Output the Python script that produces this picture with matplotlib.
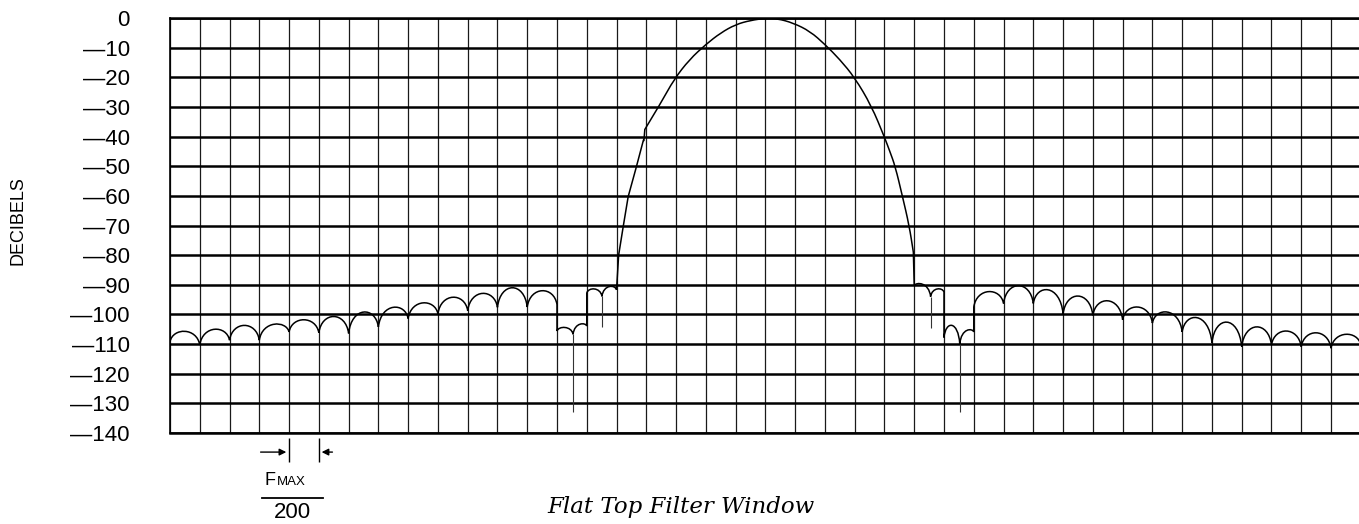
import numpy as np
import matplotlib.pyplot as plt
from matplotlib.path import Path
from matplotlib.patches import PathPatch

W, H = 1359, 524

# frequency in bins of Fmax/200, level in dB
# steep left foot of the main lobe (drawn straight)
foot_bins = [-5.0, -4.93, -4.77, -4.61, -4.35, -4.1, -4.08]
foot_db = [-91.7, -80, -70, -60.3, -50.8, -41.3, -41.3]
# rest of the main lobe (drawn smooth)
main_bins = [-4.05, -3.5, -3.07, -2.55, -2.0, -1.5, -1.0, -0.5, 0.0, 0.4, 0.94, 1.5,
             2.0, 2.5, 3.0, 3.56, 4.0, 4.18, 4.36, 4.6, 4.83, 4.97]
main_db = [-37.6, -28.5, -20.7, -14, -8.9, -5.0, -2.2, -0.8, -0.1, -0.2, -1.7, -4.5,
           -8.9, -14, -20.1, -29.6, -40.2, -45, -50, -60, -70, -79]
main_end = (5.0, -90.3)

# sidelobes: start bin, end bin, level at start, peak level, level at end
side_start = [-20, -19, -18, -17, -16, -15, -14, -13, -12, -11, -10, -9, -8, -7, -6.46, -6, -5.49,
              5, 5.55, 6, 6.53, 7, 8, 9, 10, 11, 12, 13, 14, 15, 16, 17, 18, 19]
side_end = [-19, -18, -17, -16, -15, -14, -13, -12, -11, -10, -9, -8, -7, -6.46, -6, -5.49, -5,
            5.55, 6, 6.53, 7, 8, 9, 10, 11, 12, 13, 14, 15, 16, 17, 18, 19, 20]
side_start_db = [-109.2, -110.3, -108.7, -108.7, -105.9, -106.2, -106.4, -104.2, -101.4, -99.8,
                 -98.7, -97.6, -97.5, -105.6, -106.7, -92.8, -93.9,
                 -90.3, -94.0, -107.8, -110.0, -97.5, -96.3, -96.3, -99.8, -100.3, -101.8,
                 -102.9, -105.9, -109.6, -110.9, -110.3, -110.9, -111.4]
side_peak_db = [-105.7, -105.0, -103.7, -103.3, -101.8, -100.7, -99.2, -97.6, -96.1, -94.2,
                -92.9, -91.0, -92.0, -104.4, -103.3, -91.4, -90.6,
                -89.8, -91.4, -103.7, -105.4, -92.3, -90.3, -91.7, -93.8, -95.4, -97.5,
                -99.2, -101.1, -102.6, -104.2, -105.6, -106.2, -106.7]
side_end_db = [-110.3, -108.7, -108.7, -105.9, -106.2, -106.4, -104.2, -101.4, -99.8, -98.7,
               -97.6, -97.5, -96.7, -106.7, -103.9, -93.9, -91.7,
               -94.0, -92.5, -110.0, -105.9, -96.3, -96.3, -99.8, -100.3, -101.8, -102.9,
               -105.9, -109.6, -110.9, -110.3, -110.9, -111.4, -110.3]

# deep nulls
spike_bins = [-6.46, -5.49, 5.55, 6.53]
spike_top = [-106.7, -93.9, -94.0, -110.0]
spike_bottom = [-133.0, -104.4, -104.7, -133.0]

y_ticks = list(range(0, -150, -10))
y_labels = ["0"] + ["\u2014%d" % abs(t) for t in y_ticks[1:]]

plt.rcParams['font.family'] = ['Liberation Sans', 'DejaVu Sans']

fig = plt.figure(figsize=(W / 100, H / 100), dpi=100)
ax = fig.add_axes([170 / W, (H - 433) / H, 1 - 170 / W, (433 - 18) / H])
ax.set_xlim(-20, 19.94)
ax.set_ylim(-140, 0)

ax.set_xticks(np.arange(-20, 20))
ax.set_yticks(y_ticks)
ax.set_yticklabels(y_labels, fontsize=16)
ax.tick_params(length=0, labelbottom=False)
ax.tick_params(axis='y', pad=28.8)
ax.grid(axis='x', color='#1a1a1a', lw=0.9)
ax.grid(axis='y', color='k', lw=1.8)
ax.set_axisbelow(True)
for s in ['top', 'bottom']:
    ax.spines[s].set_linewidth(1.8)
ax.spines['left'].set_linewidth(1.2)
ax.spines['right'].set_visible(False)


def add_sidelobe(i, verts, codes):
    x0, x1 = side_start[i], side_end[i]
    y0, y1 = side_start_db[i], side_end_db[i]
    yc = (side_peak_db[i] - 0.125 * (y0 + y1)) / 0.75
    w = x1 - x0
    verts.append((x0, y0))
    codes.append(Path.LINETO if verts[:-1] else Path.MOVETO)
    verts += [(x0 + 0.1 * w, yc), (x1 - 0.1 * w, yc), (x1, y1)]
    codes += [Path.CURVE4] * 3


verts, codes = [], []
n_left = sum(1 for s in side_start if s < 0)
for i in range(n_left):
    add_sidelobe(i, verts, codes)
for x, y in zip(foot_bins, foot_db):
    verts.append((x, y)); codes.append(Path.LINETO)
# smooth main lobe: quadratic pieces through the midpoints of the read points
pts = list(zip(main_bins, main_db))
verts.append(pts[0]); codes.append(Path.LINETO)
for k in range(1, len(pts) - 1):
    mid = ((pts[k][0] + pts[k + 1][0]) / 2, (pts[k][1] + pts[k + 1][1]) / 2)
    verts += [pts[k], mid]
    codes += [Path.CURVE3, Path.CURVE3]
verts.append(pts[-1]); codes.append(Path.LINETO)
verts.append(main_end); codes.append(Path.LINETO)
for i in range(n_left, len(side_start)):
    add_sidelobe(i, verts, codes)

ax.add_patch(PathPatch(Path(verts, codes), fill=False, ec='k', lw=1.1, zorder=3))
ax.vlines(spike_bins, spike_bottom, spike_top, color='#333333', lw=0.8, zorder=3)

# Fmax/200 marker
xt = ax.get_xaxis_transform()
ax.vlines([-16, -15], -0.07, -0.012, transform=xt, color='k', lw=1.0, clip_on=False)
ax.annotate('', xy=(-16, -0.046), xytext=(-17.05, -0.046), xycoords=xt, textcoords=xt,
            arrowprops=dict(arrowstyle='-|>', color='k', lw=1.0, mutation_scale=10))
ax.annotate('', xy=(-15, -0.046), xytext=(-14.45, -0.046), xycoords=xt, textcoords=xt,
            arrowprops=dict(arrowstyle='-|>', color='k', lw=1.0, mutation_scale=10))

fig.text(265 / W, 1 - 485 / H, 'F', fontsize=13, va='baseline', ha='left')
fig.text(277 / W, 1 - 485 / H, 'MAX', fontsize=9.5, va='baseline', ha='left')
fig.add_artist(plt.Line2D([262 / W, 323 / W], [1 - 498 / H, 1 - 498 / H], color='k', lw=1.3))
fig.text(292 / W, 1 - 513 / H, '200', fontsize=16, va='center', ha='center')

fig.text(18 / W, 1 - 221 / H, 'DECIBELS', fontsize=13, rotation=90, va='center', ha='center')
fig.text(815 / W, 1 - 513 / H, 'Flat Top Filter Window', fontsize=16.5, va='baseline', ha='right',
         family='DejaVu Serif', style='italic')

fig.savefig('out.png', dpi=100)
